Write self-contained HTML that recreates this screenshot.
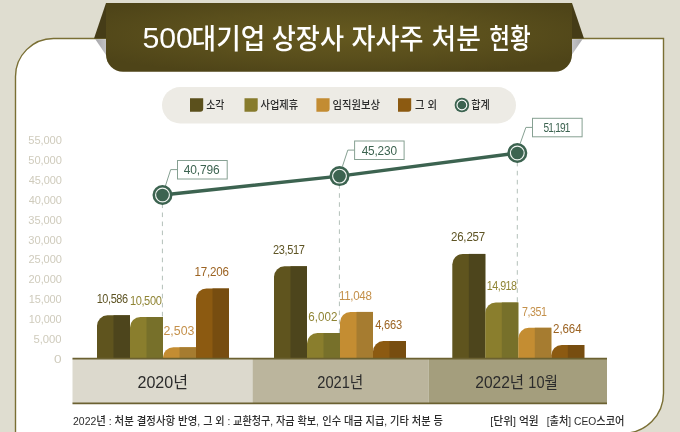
<!DOCTYPE html>
<html lang="ko">
<head>
<meta charset="utf-8">
<title>500대기업 상장사 자사주 처분 현황</title>
<style>
html,body{margin:0;padding:0;background:#dfddd0;}
body{width:680px;height:432px;overflow:hidden;position:relative;}
svg{display:block;position:absolute;left:0;top:0;}
text{font-family:"Liberation Sans","Noto Sans CJK KR",sans-serif;}
.ti{font-size:28px;font-weight:500;fill:#ffffff;}
.tn{font-size:29.5px;font-weight:500;fill:#ffffff;}
.ax{font-size:11.3px;fill:#cfcbbc;}
.v{font-size:12px;}
.tot{font-size:12.6px;fill:#3c6350;}
.lg{font-size:11px;fill:#2b2b2b;font-weight:500;}
.yr{font-size:16.4px;fill:#2b2b2b;}
.ft{font-size:11px;fill:#2b2b2b;font-weight:500;}
</style>
</head>
<body>
<svg width="680" height="432" viewBox="0 0 680 432">
  <defs>
    <radialGradient id="bn" cx="0.5" cy="0.45" r="0.62">
      <stop offset="0" stop-color="#65591f"/>
      <stop offset="0.55" stop-color="#5a4f1c"/>
      <stop offset="1" stop-color="#4e4418"/>
    </radialGradient>
    <linearGradient id="sh1" x1="0" y1="0" x2="1" y2="0">
      <stop offset="0" stop-color="#a6a6aa"/>
      <stop offset="1" stop-color="#c6c6c8"/>
    </linearGradient>
    <linearGradient id="sh2" x1="1" y1="0" x2="0" y2="0">
      <stop offset="0" stop-color="#a6a6aa"/>
      <stop offset="1" stop-color="#c6c6c8"/>
    </linearGradient>
  </defs>
  <rect x="0" y="0" width="680" height="432" fill="#dfddd0"/>
  <!-- panel -->
  <path d="M53.500 38.500 H663.500 V393.200 A40 40 0 0 1 623.500 433.200 H15.500 V76.500 A38 38 0 0 1 53.500 38.500 Z" fill="#ffffff" stroke="#7a6f34" stroke-width="1.400"/>
  <!-- banner folds -->
  <path d="M106 3 L94 38.500 H106 Z" fill="#453c17"/>
  <path d="M572 3 L584 38.500 H572 Z" fill="#453c17"/>
  <path d="M95.300 39.200 H107 V56.500 Z" fill="url(#sh1)"/>
  <path d="M582.500 39.200 H571 V56 Z" fill="url(#sh2)"/>
  <!-- banner -->
  <path d="M106 3 H572 V54.700 A17 17 0 0 1 555 71.700 H123 A17 17 0 0 1 106 54.700 Z" fill="url(#bn)"/>
  <g>
    <text class="tn" x="142.45" y="47.6" textLength="50.42" lengthAdjust="spacingAndGlyphs">500</text>
    <text class="ti" x="191.58" y="48.7" textLength="73.76" lengthAdjust="spacingAndGlyphs">대기업</text>
    <text class="ti" x="271.72" y="48.7" textLength="72.26" lengthAdjust="spacingAndGlyphs">상장사</text>
    <text class="ti" x="351.49" y="48.7" textLength="71.93" lengthAdjust="spacingAndGlyphs">자사주</text>
    <text class="ti" x="431.56" y="48.7" textLength="49.30" lengthAdjust="spacingAndGlyphs">처분</text>
    <text class="ti" x="489.22" y="48.7" textLength="41.50" lengthAdjust="spacingAndGlyphs">현황</text>
  </g>

  <!-- legend -->
  <rect x="162" y="87" width="354" height="36.500" rx="18.250" fill="#edebe5"/>
  <path d="M190 98.200 H203.200 V108.800 A3 3 0 0 1 200.200 111.800 H190 Z" fill="#5b501c"/>
  <path d="M244.500 98.200 H257.700 V108.800 A3 3 0 0 1 254.700 111.800 H244.500 Z" fill="#877b2c"/>
  <path d="M316.400 98.200 H329.600 V108.800 A3 3 0 0 1 326.600 111.800 H316.400 Z" fill="#c38c32"/>
  <path d="M398 98.200 H411.200 V108.800 A3 3 0 0 1 408.200 111.800 H398 Z" fill="#8c5a11"/>
  <circle cx="461.900" cy="105" r="7.300" fill="#3c6350"/>
  <circle cx="461.900" cy="105" r="4.900" fill="none" stroke="#ffffff" stroke-width="1.100"/>
  <g>
    <text class="lg" x="206.27" y="109.0" textLength="18.05" lengthAdjust="spacingAndGlyphs">소각</text>
    <text class="lg" x="260.49" y="109.0" textLength="37.73" lengthAdjust="spacingAndGlyphs">사업제휴</text>
    <text class="lg" x="332.53" y="109.0" textLength="47.53" lengthAdjust="spacingAndGlyphs">임직원보상</text>
    <text class="lg" x="415.03" y="109.0" textLength="21.95" lengthAdjust="spacingAndGlyphs">그 외</text>
    <text class="lg" x="471.14" y="109.0" textLength="18.53" lengthAdjust="spacingAndGlyphs">합계</text>
  </g>

  <!-- y axis -->
  <g>
    <text class="ax" x="28.30" y="144.3" textLength="33.42" lengthAdjust="spacingAndGlyphs" letter-spacing="-0.09">55,000</text>
    <text class="ax" x="28.30" y="164.1" textLength="33.42" lengthAdjust="spacingAndGlyphs" letter-spacing="-0.09">50,000</text>
    <text class="ax" x="28.78" y="184.0" textLength="33.10" lengthAdjust="spacingAndGlyphs" letter-spacing="-0.09">45,000</text>
    <text class="ax" x="28.78" y="203.8" textLength="33.10" lengthAdjust="spacingAndGlyphs" letter-spacing="-0.09">40,000</text>
    <text class="ax" x="28.30" y="223.7" textLength="33.42" lengthAdjust="spacingAndGlyphs" letter-spacing="-0.09">35,000</text>
    <text class="ax" x="28.30" y="243.5" textLength="33.42" lengthAdjust="spacingAndGlyphs" letter-spacing="-0.09">30,000</text>
    <text class="ax" x="28.53" y="263.3" textLength="33.27" lengthAdjust="spacingAndGlyphs" letter-spacing="-0.09">25,000</text>
    <text class="ax" x="28.53" y="283.2" textLength="33.27" lengthAdjust="spacingAndGlyphs" letter-spacing="-0.09">20,000</text>
    <text class="ax" x="28.87" y="303.0" textLength="32.60" lengthAdjust="spacingAndGlyphs" letter-spacing="-0.15">15,000</text>
    <text class="ax" x="28.87" y="322.9" textLength="32.60" lengthAdjust="spacingAndGlyphs" letter-spacing="-0.15">10,000</text>
    <text class="ax" x="33.40" y="342.7" textLength="28.21" lengthAdjust="spacingAndGlyphs">5,000</text>
    <text class="ax" x="54.09" y="362.5" textLength="7.62" lengthAdjust="spacingAndGlyphs">0</text>
  </g>

  <!-- dashed guides -->
  <g stroke="#b3c0b9" stroke-width="1" stroke-dasharray="4.600 4.430" fill="none">
    <path d="M162.400 194.440 V358"/>
    <path d="M339.400 175.140 V358"/>
    <path d="M517.300 152.740 V358"/>
  </g>

  <!-- bars -->
  <g>
    <path d="M97.0 358.5 V325.8 A10.5 10.5 0 0 1 107.5 315.3 H130.0 V358.5 Z" fill="#5f541e"/>
    <rect x="113.5" y="315.3" width="16.5" height="43.2" fill="#4d451c"/>
    <path d="M130.0 358.5 V327.5 A10.5 10.5 0 0 1 140.5 317.0 H163.0 V358.5 Z" fill="#8a7e2d"/>
    <rect x="146.5" y="317.0" width="16.5" height="41.5" fill="#77702a"/>
    <path d="M163.0 358.5 V357.0 A10.5 9.7 0 0 1 173.5 347.3 H196.0 V358.5 Z" fill="#c48d32"/>
    <rect x="179.5" y="347.3" width="16.5" height="11.2" fill="#a67c30"/>
    <path d="M196.0 358.5 V299.0 A10.5 10.5 0 0 1 206.5 288.5 H229.0 V358.5 Z" fill="#8c5a11"/>
    <rect x="212.5" y="288.5" width="16.5" height="70.0" fill="#774d10"/>
    <path d="M274.0 358.5 V276.8 A10.5 10.5 0 0 1 284.5 266.3 H307.0 V358.5 Z" fill="#5f541e"/>
    <rect x="290.5" y="266.3" width="16.5" height="92.2" fill="#4d451c"/>
    <path d="M307.0 358.5 V343.5 A10.5 10.5 0 0 1 317.5 333.0 H340.0 V358.5 Z" fill="#8a7e2d"/>
    <rect x="323.5" y="333.0" width="16.5" height="25.5" fill="#77702a"/>
    <path d="M340.0 358.5 V322.4 A10.5 10.5 0 0 1 350.5 311.9 H373.0 V358.5 Z" fill="#c48d32"/>
    <rect x="356.5" y="311.9" width="16.5" height="46.6" fill="#a67c30"/>
    <path d="M373.0 358.5 V351.6 A10.5 10.5 0 0 1 383.5 341.1 H406.0 V358.5 Z" fill="#8c5a11"/>
    <rect x="389.5" y="341.1" width="16.5" height="17.4" fill="#774d10"/>
    <path d="M452.3 358.5 V264.4 A10.5 10.5 0 0 1 462.8 253.9 H485.3 V358.5 Z" fill="#5f541e"/>
    <rect x="468.8" y="253.9" width="16.5" height="104.6" fill="#4d451c"/>
    <path d="M485.3 358.5 V313.0 A10.5 10.5 0 0 1 495.8 302.5 H518.3 V358.5 Z" fill="#8a7e2d"/>
    <rect x="501.8" y="302.5" width="16.5" height="56.0" fill="#77702a"/>
    <path d="M518.3 358.5 V338.3 A10.5 10.5 0 0 1 528.8 327.8 H551.3 V358.5 Z" fill="#c48d32"/>
    <rect x="534.8" y="327.8" width="16.5" height="30.7" fill="#a67c30"/>
    <path d="M551.3 358.5 V355.5 A10.5 10.5 0 0 1 561.8 345.0 H584.3 V358.5 Z" fill="#8c5a11"/>
    <rect x="567.8" y="345.0" width="16.5" height="13.5" fill="#774d10"/>
  </g>
  <g>
    <text class="v" x="96.66" y="303.2" fill="#5e5424" textLength="31.10" lengthAdjust="spacingAndGlyphs" letter-spacing="-0.43">10,586</text>
    <text class="v" x="129.90" y="304.8" fill="#8f8434" textLength="31.52" lengthAdjust="spacingAndGlyphs" letter-spacing="-0.40">10,500</text>
    <text class="v" x="163.52" y="335.0" fill="#c4904a" textLength="30.86" lengthAdjust="spacingAndGlyphs">2,503</text>
    <text class="v" x="194.52" y="276.1" fill="#9c6322" textLength="34.36" lengthAdjust="spacingAndGlyphs" letter-spacing="-0.18">17,206</text>
    <text class="v" x="272.99" y="254.2" fill="#5e5424" textLength="31.63" lengthAdjust="spacingAndGlyphs" letter-spacing="-0.36">23,517</text>
    <text class="v" x="308.31" y="320.8" fill="#8f8434" textLength="29.04" lengthAdjust="spacingAndGlyphs">6,002</text>
    <text class="v" x="338.92" y="299.8" fill="#c4904a" textLength="32.65" lengthAdjust="spacingAndGlyphs" letter-spacing="-0.31">11,048</text>
    <text class="v" x="375.17" y="329.1" fill="#9c6322" textLength="26.68" lengthAdjust="spacingAndGlyphs" letter-spacing="-0.25">4,663</text>
    <text class="v" x="450.94" y="241.3" fill="#5e5424" textLength="34.08" lengthAdjust="spacingAndGlyphs" letter-spacing="-0.18">26,257</text>
    <text class="v" x="486.83" y="289.8" fill="#8f8434" textLength="29.60" lengthAdjust="spacingAndGlyphs" letter-spacing="-0.60">14,918</text>
    <text class="v" x="522.05" y="315.6" fill="#c4904a" textLength="24.40" lengthAdjust="spacingAndGlyphs" letter-spacing="-0.52">7,351</text>
    <text class="v" x="553.10" y="332.6" fill="#9c6322" textLength="28.44" lengthAdjust="spacingAndGlyphs" letter-spacing="-0.09">2,664</text>
  </g>

  <!-- total line -->
  <g stroke="#86a092" stroke-width="1" fill="none">
    <path d="M165.400 186 L170.700 169.600 H177.500"/>
    <path d="M342.400 166.500 L347.800 150.100 H354.500"/>
    <path d="M520.200 143.500 L525.900 127.400 H532.500"/>
  </g>
  <path d="M162.500 195 L339.500 176.100 L517.300 153" stroke="#3c6350" stroke-width="3.400" fill="none" stroke-linejoin="round"/>
  <g>
    <circle cx="162.500" cy="195" r="10" fill="#3c6350"/>
    <circle cx="162.500" cy="195" r="6.900" fill="none" stroke="#f1f5f2" stroke-width="1.150"/>
    <circle cx="339.500" cy="176.100" r="10" fill="#3c6350"/>
    <circle cx="339.500" cy="176.100" r="6.900" fill="none" stroke="#f1f5f2" stroke-width="1.150"/>
    <circle cx="517.300" cy="153" r="10" fill="#3c6350"/>
    <circle cx="517.300" cy="153" r="6.900" fill="none" stroke="#f1f5f2" stroke-width="1.150"/>
  </g>
  <g fill="#ffffff" stroke="#86a092" stroke-width="1">
    <rect x="177.500" y="160.500" width="49.700" height="18.500"/>
    <rect x="354.600" y="141" width="49.500" height="18.500"/>
    <rect x="532.500" y="118.300" width="49.600" height="18.500"/>
  </g>
  <g>
    <text class="tot" x="183.79" y="173.7" textLength="35.74" lengthAdjust="spacingAndGlyphs" letter-spacing="-0.16">40,796</text>
    <text class="tot" x="361.72" y="154.6" textLength="35.08" lengthAdjust="spacingAndGlyphs" letter-spacing="-0.19">45,230</text>
    <text class="tot" x="543.59" y="131.6" textLength="25.95" lengthAdjust="spacingAndGlyphs" letter-spacing="-1.03">51,191</text>
  </g>

  <!-- platform -->
  <rect x="72.500" y="358.500" width="180" height="45" fill="#dcd9cd"/>
  <rect x="252.500" y="358.500" width="176" height="45" fill="#bbb59d"/>
  <rect x="428.500" y="358.500" width="178.500" height="45" fill="#a49e7d"/>
  <path d="M72.500 358.700 H607" stroke="#6b6131" stroke-width="1.800"/>
  <path d="M72.500 403.400 H607" stroke="#6b6131" stroke-width="1.600"/>
  <g>
    <text class="yr" x="137.44" y="387.5" textLength="50.61" lengthAdjust="spacingAndGlyphs">2020년</text>
    <text class="yr" x="317.25" y="387.5" textLength="46.09" lengthAdjust="spacingAndGlyphs">2021년</text>
    <text class="yr" x="475.30" y="387.5" textLength="48.86" lengthAdjust="spacingAndGlyphs">2022년</text>
    <text class="yr" x="528.35" y="387.5" textLength="29.46" lengthAdjust="spacingAndGlyphs">10월</text>
  </g>

  <!-- footer -->
  <g>
    <text class="ft" x="73.06" y="424.6" textLength="127.10" lengthAdjust="spacingAndGlyphs">2022년 : 처분 결정사항 반영,</text>
    <text class="ft" x="203.23" y="424.6" textLength="115.66" lengthAdjust="spacingAndGlyphs">그 외 : 교환청구, 자금 확보,</text>
    <text class="ft" x="322.22" y="424.6" textLength="120.58" lengthAdjust="spacingAndGlyphs">인수 대금 지급, 기타 처분 등</text>
    <text class="ft" x="490.30" y="424.6" textLength="48.45" lengthAdjust="spacingAndGlyphs">[단위] 억원</text>
    <text class="ft" x="546.65" y="424.6" textLength="77.83" lengthAdjust="spacingAndGlyphs">[출처] CEO스코어</text>
  </g>
</svg>
</body>
</html>
